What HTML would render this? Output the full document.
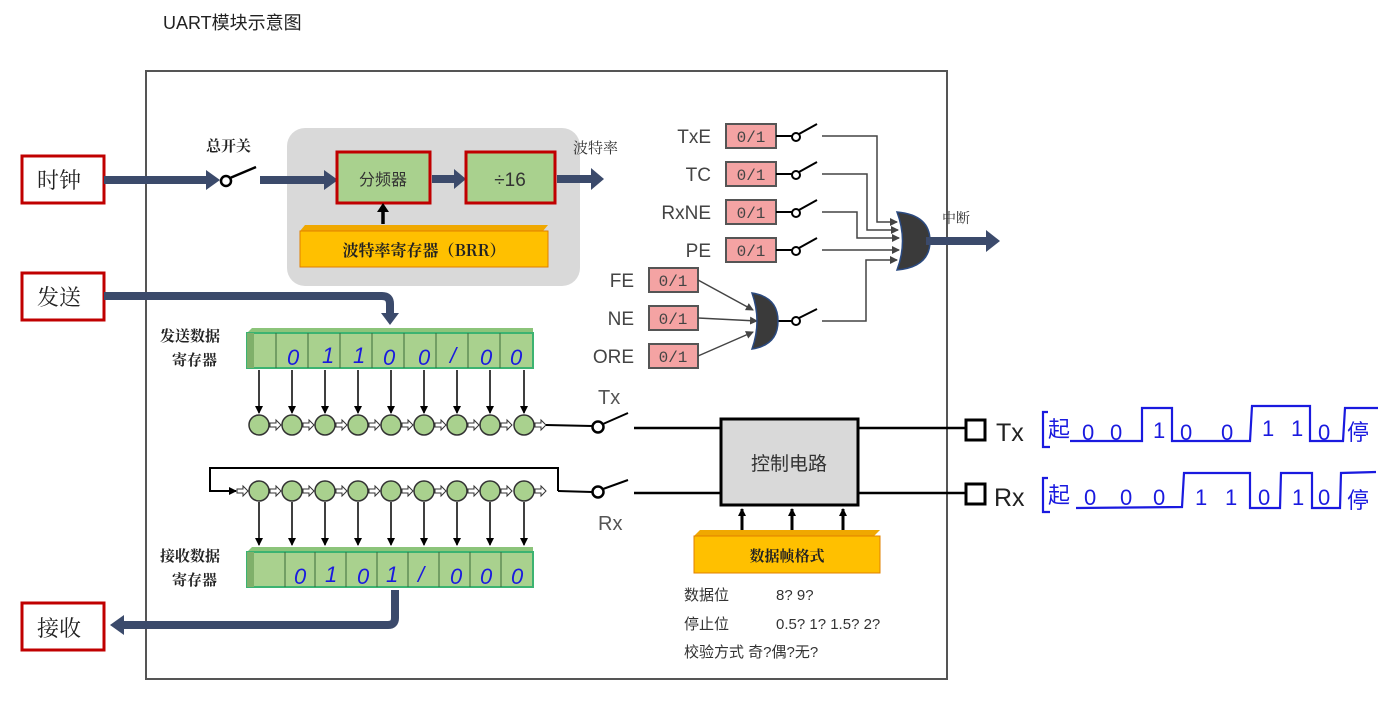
<!DOCTYPE html>
<html><head><meta charset="utf-8"><style>
html,body{margin:0;padding:0;background:#fff;}
svg{display:block;}
</style></head><body>
<svg width="1391" height="702" viewBox="0 0 1391 702" xmlns="http://www.w3.org/2000/svg" font-family="Liberation Sans, Noto Sans CJK SC, sans-serif">
<defs>
<marker id="ab" markerWidth="8" markerHeight="8" refX="7" refY="4" orient="auto" markerUnits="userSpaceOnUse"><path d="M0,0 L8,4 L0,8 Z" fill="#000"/></marker>
<marker id="ag" markerWidth="8" markerHeight="8" refX="7" refY="4" orient="auto" markerUnits="userSpaceOnUse"><path d="M0,0 L8,4 L0,8 Z" fill="#444"/></marker>
</defs>
<text x="163" y="29" font-size="18" fill="#222">UART模块示意图</text>
<rect x="146" y="71" width="801" height="608" fill="none" stroke="#555" stroke-width="2"/>

<g fill="#fff" stroke="#c00000" stroke-width="3">
<rect x="22" y="156" width="82" height="47"/><rect x="22" y="273" width="82" height="47"/><rect x="22" y="603" width="82" height="47"/>
</g>
<g font-family="Noto Serif CJK SC, Noto Sans CJK SC, serif" font-size="22" fill="#222">
<text x="37" y="188">时钟</text><text x="37" y="305">发送</text><text x="37" y="636">接收</text>
</g>

<rect x="287" y="128" width="293" height="158" rx="18" fill="#d9d9d9"/>

<g fill="#3b4a6b" stroke="none">
<rect x="104" y="176" width="104" height="8"/><path d="M206,170 L220,180 L206,190 Z"/>
<rect x="260" y="176" width="66" height="8"/><path d="M324,170 L338,180 L324,190 Z"/>
</g>
<circle cx="226" cy="181" r="5" fill="#fff" stroke="#000" stroke-width="2.5"/>
<line x1="230" y1="178" x2="256" y2="167" stroke="#000" stroke-width="2.5"/>
<text x="206" y="151" font-family="Noto Serif CJK SC, serif" font-weight="bold" font-size="15" fill="#222">总开关</text>

<rect x="337" y="152" width="93" height="51" fill="#a9d18e" stroke="#c00000" stroke-width="3"/>
<text x="383" y="185" text-anchor="middle" font-size="16" fill="#333">分频器</text>
<g fill="#3b4a6b"><rect x="432" y="175" width="24" height="8"/><path d="M454,169 L466,179 L454,189 Z"/>
<rect x="557" y="175" width="36" height="8"/><path d="M591,168 L604,179 L591,190 Z"/></g>
<rect x="466" y="152" width="89" height="51" fill="#a9d18e" stroke="#c00000" stroke-width="3"/>
<text x="510" y="186" text-anchor="middle" font-size="19" fill="#333">÷16</text>
<text x="573" y="153" font-family="Noto Serif CJK SC, serif" font-size="15" fill="#333">波特率</text>
<line x1="383" y1="224" x2="383" y2="210" stroke="#000" stroke-width="3.5"/>
<path d="M377,212 L383,203 L389,212 Z" fill="#000"/>
<path d="M300,231 L305,225 L548,225 L543,231 Z" fill="#f0a800"/>
<rect x="300" y="231" width="248" height="36" fill="#ffc000" stroke="#e08000"/>
<text x="424" y="256" text-anchor="middle" font-family="Noto Serif CJK SC, serif" font-weight="bold" font-size="16" fill="#222">波特率寄存器（BRR）</text>

<path d="M104,296 L382,296 Q390,296 390,304 L390,316" fill="none" stroke="#3b4a6b" stroke-width="8"/>
<path d="M381,313 L390,325 L399,313 Z" fill="#3b4a6b"/>

<g font-family="Noto Serif CJK SC, serif" font-weight="bold" font-size="15" fill="#222">
<text x="160" y="341">发送数据</text><text x="172" y="365">寄存器</text>
<text x="160" y="561">接收数据</text><text x="172" y="585">寄存器</text>
</g>
<path d="M247,333 L252,328 L533,328 L533,334 Z" fill="#8cc47a"/>
<rect x="247" y="333" width="286" height="35" fill="#a9d18e" stroke="#3cb371" stroke-width="2"/>
<rect x="247" y="333" width="7" height="35" fill="#7fb06a"/>
<g stroke="#3a6a3a" stroke-width="1">
<line x1="276" y1="333" x2="276" y2="368"/><line x1="308" y1="333" x2="308" y2="368"/><line x1="340" y1="333" x2="340" y2="368"/><line x1="372" y1="333" x2="372" y2="368"/><line x1="404" y1="333" x2="404" y2="368"/><line x1="436" y1="333" x2="436" y2="368"/><line x1="468" y1="333" x2="468" y2="368"/><line x1="500" y1="333" x2="500" y2="368"/>
</g>
<g fill="#1a1adf" font-style="italic" font-size="22">
<text x="287" y="365">0</text><text x="322" y="363">1</text><text x="353" y="363">1</text><text x="383" y="365">0</text><text x="418" y="365">0</text><text x="450" y="363">/</text><text x="480" y="365">0</text><text x="510" y="365">0</text>
</g>
<g stroke="#000" stroke-width="1.5" marker-end="url(#ab)">
<line x1="259" y1="370" x2="259" y2="413"/><line x1="292" y1="370" x2="292" y2="413"/><line x1="325" y1="370" x2="325" y2="413"/><line x1="358" y1="370" x2="358" y2="413"/><line x1="391" y1="370" x2="391" y2="413"/><line x1="424" y1="370" x2="424" y2="413"/><line x1="457" y1="370" x2="457" y2="413"/><line x1="490" y1="370" x2="490" y2="413"/><line x1="524" y1="370" x2="524" y2="413"/>
</g>
<g fill="#a9d18e" stroke="#333" stroke-width="1.5">
<circle cx="259" cy="425" r="10"/><circle cx="292" cy="425" r="10"/><circle cx="325" cy="425" r="10"/><circle cx="358" cy="425" r="10"/><circle cx="391" cy="425" r="10"/><circle cx="424" cy="425" r="10"/><circle cx="457" cy="425" r="10"/><circle cx="490" cy="425" r="10"/><circle cx="524" cy="425" r="10"/>
</g>
<g fill="#fff" stroke="#333" stroke-width="1">
<path d="M270,423 h6 v-3 l5,5 l-5,5 v-3 h-6 Z"/><path d="M303,423 h6 v-3 l5,5 l-5,5 v-3 h-6 Z"/><path d="M336,423 h6 v-3 l5,5 l-5,5 v-3 h-6 Z"/><path d="M369,423 h6 v-3 l5,5 l-5,5 v-3 h-6 Z"/><path d="M402,423 h6 v-3 l5,5 l-5,5 v-3 h-6 Z"/><path d="M435,423 h6 v-3 l5,5 l-5,5 v-3 h-6 Z"/><path d="M468,423 h6 v-3 l5,5 l-5,5 v-3 h-6 Z"/><path d="M501,423 h6 v-3 l5,5 l-5,5 v-3 h-6 Z"/><path d="M535,423 h6 v-3 l5,5 l-5,5 v-3 h-6 Z"/>
</g>
<line x1="546" y1="425" x2="592" y2="426" stroke="#000" stroke-width="2"/>
<circle cx="598" cy="427" r="5.5" fill="#fff" stroke="#000" stroke-width="2.5"/>
<line x1="603" y1="424" x2="628" y2="413" stroke="#000" stroke-width="2"/>
<line x1="634" y1="428" x2="720" y2="428" stroke="#000" stroke-width="2.5"/>
<text x="598" y="404" font-size="20" fill="#555">Tx</text>

<path d="M558,491 L558,468 L210,468 L210,491 L236,491" fill="none" stroke="#000" stroke-width="2" marker-end="url(#ab)"/>
<g fill="#a9d18e" stroke="#333" stroke-width="1.5">
<circle cx="259" cy="491" r="10"/><circle cx="292" cy="491" r="10"/><circle cx="325" cy="491" r="10"/><circle cx="358" cy="491" r="10"/><circle cx="391" cy="491" r="10"/><circle cx="424" cy="491" r="10"/><circle cx="457" cy="491" r="10"/><circle cx="490" cy="491" r="10"/><circle cx="524" cy="491" r="10"/>
</g>
<g fill="#fff" stroke="#333" stroke-width="1">
<path d="M237,489 h6 v-3 l5,5 l-5,5 v-3 h-6 Z"/><path d="M270,489 h6 v-3 l5,5 l-5,5 v-3 h-6 Z"/><path d="M303,489 h6 v-3 l5,5 l-5,5 v-3 h-6 Z"/><path d="M336,489 h6 v-3 l5,5 l-5,5 v-3 h-6 Z"/><path d="M369,489 h6 v-3 l5,5 l-5,5 v-3 h-6 Z"/><path d="M402,489 h6 v-3 l5,5 l-5,5 v-3 h-6 Z"/><path d="M435,489 h6 v-3 l5,5 l-5,5 v-3 h-6 Z"/><path d="M468,489 h6 v-3 l5,5 l-5,5 v-3 h-6 Z"/><path d="M501,489 h6 v-3 l5,5 l-5,5 v-3 h-6 Z"/><path d="M535,489 h6 v-3 l5,5 l-5,5 v-3 h-6 Z"/>
</g>
<line x1="558" y1="491" x2="592" y2="492" stroke="#000" stroke-width="2"/>
<circle cx="598" cy="492" r="5.5" fill="#fff" stroke="#000" stroke-width="2.5"/>
<line x1="603" y1="489" x2="628" y2="480" stroke="#000" stroke-width="2"/>
<line x1="634" y1="493" x2="720" y2="493" stroke="#000" stroke-width="2.5"/>
<text x="598" y="530" font-size="20" fill="#555">Rx</text>
<g stroke="#000" stroke-width="1.5" marker-end="url(#ab)">
<line x1="259" y1="502" x2="259" y2="545"/><line x1="292" y1="502" x2="292" y2="545"/><line x1="325" y1="502" x2="325" y2="545"/><line x1="358" y1="502" x2="358" y2="545"/><line x1="391" y1="502" x2="391" y2="545"/><line x1="424" y1="502" x2="424" y2="545"/><line x1="457" y1="502" x2="457" y2="545"/><line x1="490" y1="502" x2="490" y2="545"/><line x1="524" y1="502" x2="524" y2="545"/>
</g>
<path d="M247,552 L252,547 L533,547 L533,553 Z" fill="#8cc47a"/>
<rect x="247" y="552" width="286" height="35" fill="#a9d18e" stroke="#3cb371" stroke-width="2"/>
<rect x="247" y="552" width="7" height="35" fill="#7fb06a"/>
<g stroke="#3a6a3a" stroke-width="1">
<line x1="285" y1="552" x2="285" y2="587"/><line x1="315" y1="552" x2="315" y2="587"/><line x1="346" y1="552" x2="346" y2="587"/><line x1="377" y1="552" x2="377" y2="587"/><line x1="408" y1="552" x2="408" y2="587"/><line x1="439" y1="552" x2="439" y2="587"/><line x1="470" y1="552" x2="470" y2="587"/><line x1="501" y1="552" x2="501" y2="587"/>
</g>
<g fill="#1a1adf" font-style="italic" font-size="22">
<text x="294" y="584">0</text><text x="325" y="582">1</text><text x="357" y="584">0</text><text x="386" y="582">1</text><text x="418" y="582">/</text><text x="450" y="584">0</text><text x="480" y="584">0</text><text x="511" y="584">0</text>
</g>
<path d="M395,590 L395,618 Q395,625 388,625 L122,625" fill="none" stroke="#3b4a6b" stroke-width="8"/>
<path d="M124,615 L110,625 L124,635 Z" fill="#3b4a6b"/>

<rect x="721" y="419" width="137" height="86" fill="#d9d9d9" stroke="#000" stroke-width="3"/>
<text x="789" y="470" text-anchor="middle" font-size="19" fill="#333">控制电路</text>
<line x1="858" y1="428" x2="965" y2="428" stroke="#000" stroke-width="2.5"/>
<line x1="858" y1="493" x2="965" y2="493" stroke="#000" stroke-width="2.5"/>
<rect x="966" y="420" width="19" height="20" fill="#fff" stroke="#000" stroke-width="3"/>
<rect x="966" y="484" width="19" height="20" fill="#fff" stroke="#000" stroke-width="3"/>
<text x="996" y="441" font-size="25" fill="#222">Tx</text>
<text x="994" y="506" font-size="25" fill="#222">Rx</text>
<g stroke="#000" stroke-width="3" marker-end="url(#ab)">
<line x1="742" y1="533" x2="742" y2="509"/><line x1="792" y1="533" x2="792" y2="509"/><line x1="843" y1="533" x2="843" y2="509"/>
</g>
<path d="M694,536 L700,530 L880,530 L874,536 Z" fill="#f0a800"/>
<rect x="694" y="536" width="186" height="37" fill="#ffc000" stroke="#e08000"/>
<text x="787" y="561" text-anchor="middle" font-family="Noto Serif CJK SC, serif" font-weight="bold" font-size="15" fill="#222">数据帧格式</text>
<g font-size="15" fill="#333">
<text x="684" y="600">数据位</text><text x="776" y="600">8? 9?</text>
<text x="684" y="629">停止位</text><text x="776" y="629">0.5? 1? 1.5? 2?</text>
<text x="684" y="657">校验方式 奇?偶?无?</text>
</g>

<g fill="#f4a3a3" stroke="#555" stroke-width="2">
<rect x="726" y="124" width="50" height="24"/><rect x="726" y="162" width="50" height="24"/><rect x="726" y="200" width="50" height="24"/><rect x="726" y="238" width="50" height="24"/>
<rect x="649" y="268" width="49" height="24"/><rect x="649" y="306" width="49" height="24"/><rect x="649" y="344" width="49" height="24"/>
</g>
<g font-family="Liberation Mono, DejaVu Sans Mono, monospace" font-size="16" fill="#444" text-anchor="middle">
<text x="751" y="142">0/1</text><text x="751" y="180">0/1</text><text x="751" y="218">0/1</text><text x="751" y="256">0/1</text>
<text x="673" y="286">0/1</text><text x="673" y="324">0/1</text><text x="673" y="362">0/1</text>
</g>
<g font-size="19" fill="#444" text-anchor="end">
<text x="711" y="143">TxE</text><text x="711" y="181">TC</text><text x="711" y="219">RxNE</text><text x="711" y="257">PE</text>
<text x="634" y="287">FE</text><text x="634" y="325">NE</text><text x="634" y="363">ORE</text>
</g>
<g stroke="#000" stroke-width="2" fill="#fff">
<line x1="776" y1="136" x2="792" y2="136"/><circle cx="796" cy="137" r="4"/><line x1="799" y1="134" x2="817" y2="124"/>
<line x1="776" y1="174" x2="792" y2="174"/><circle cx="796" cy="175" r="4"/><line x1="799" y1="172" x2="817" y2="162"/>
<line x1="776" y1="212" x2="792" y2="212"/><circle cx="796" cy="213" r="4"/><line x1="799" y1="210" x2="817" y2="200"/>
<line x1="776" y1="250" x2="792" y2="250"/><circle cx="796" cy="251" r="4"/><line x1="799" y1="248" x2="817" y2="238"/>
<circle cx="796" cy="321" r="4"/><line x1="799" y1="318" x2="817" y2="309"/>
<line x1="775" y1="321" x2="792" y2="321"/>
</g>
<g fill="none" stroke="#444" stroke-width="1.5" marker-end="url(#ag)">
<path d="M822,136 L877,136 L877,222 L897,222"/>
<path d="M822,174 L867,174 L867,230 L898,230"/>
<path d="M822,212 L857,212 L857,238 L899,238"/>
<path d="M822,250 L899,250"/>
<path d="M822,321 L866,321 L866,260 L897,260"/>
<path d="M698,280 L753,310"/><path d="M698,318 L757,321"/><path d="M698,356 L753,332"/>
</g>
<path d="M897,212 Q930,215 930,241 Q930,267 897,270 Q908,241 897,212 Z" fill="#3a3a3a" stroke="#2b4a80" stroke-width="1.5"/>
<path d="M752,293 Q778,297 778,321 Q778,345 752,349 Q762,321 752,293 Z" fill="#3a3a3a" stroke="#2b4a80" stroke-width="1.5"/>
<g fill="#3b4a6b"><rect x="926" y="237" width="62" height="8"/><path d="M986,230 L1000,241 L986,252 Z"/></g>
<text x="942" y="223" font-family="Noto Serif CJK SC, serif" font-size="14" fill="#333">中断</text>

<g fill="none" stroke="#1a1adf" stroke-width="2.2">
<path d="M1048,412 L1043,412 L1043,447 L1050,447"/>
<path d="M1070,441 L1142,441 L1142,408 L1172,408 L1172,441 L1250,441 L1252,406 L1310,406 L1310,441 L1343,441 L1345,408 L1378,408"/>
<path d="M1048,478 L1043,478 L1043,512 L1050,512"/>
<path d="M1076,508 L1182,507 L1184,473 L1250,473 L1250,508 L1280,508 L1281,473 L1312,473 L1312,508 L1340,508 L1341,473 L1376,472"/>
</g>
<g fill="#1a1adf" font-size="22" font-family="Noto Sans CJK SC, sans-serif">
<text x="1048" y="437">起</text><text x="1347" y="440">停</text>
<text x="1048" y="503">起</text><text x="1347" y="508">停</text>
</g>
<g fill="#1a1adf" font-size="22">
<text x="1082" y="440">0</text><text x="1110" y="440">0</text><text x="1153" y="438">1</text><text x="1180" y="440">0</text><text x="1221" y="440">0</text><text x="1262" y="436">1</text><text x="1291" y="436">1</text><text x="1318" y="440">0</text>
<text x="1084" y="505">0</text><text x="1120" y="505">0</text><text x="1153" y="505">0</text><text x="1195" y="505">1</text><text x="1225" y="505">1</text><text x="1258" y="505">0</text><text x="1292" y="505">1</text><text x="1318" y="505">0</text>
</g>
</svg>
</body></html>
